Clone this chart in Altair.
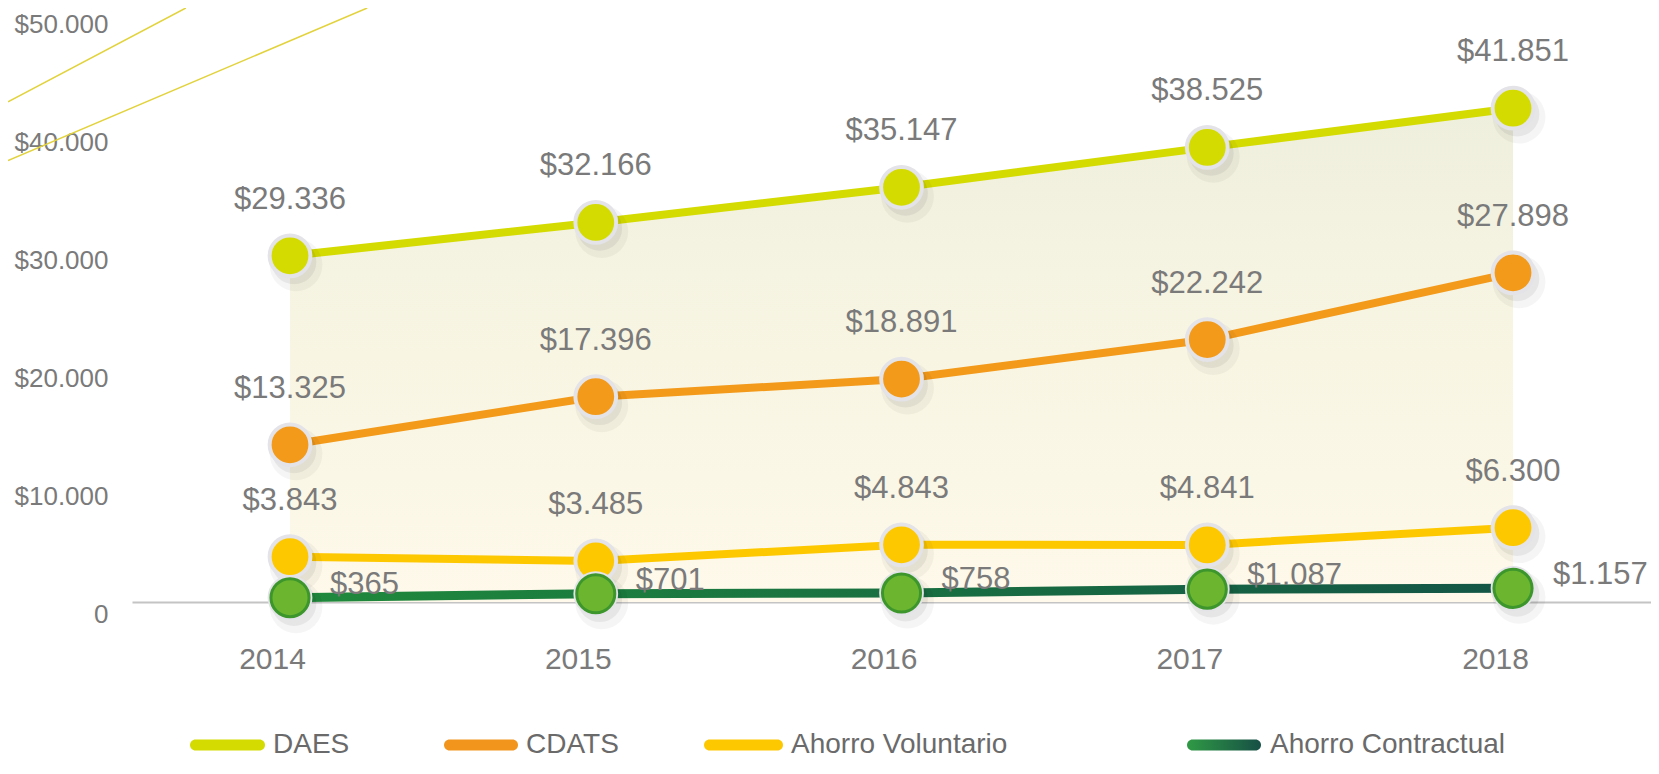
import altair as alt
import pandas as pd

years = [2014, 2015, 2016, 2017, 2018]
series_names = ["DAES", "CDATS", "Ahorro Voluntario", "Ahorro Contractual"]
daes = [29336, 32166, 35147, 38525, 41851]
cdats = [13325, 17396, 18891, 22242, 27898]
ahorro_vol = [3843, 3485, 4843, 4841, 6300]
ahorro_con = [365, 701, 758, 1087, 1157]
y_ticks = [0, 10000, 20000, 30000, 40000, 50000]

fill_colors = ["#d4db00", "#f39a1b", "#fec800", "#6cb52f"]
line_colors = ["#d4db00", "#f39a1b", "#fec800", "#1b6d40"]

REG = "Liberation Sans, Arial, sans-serif"
GRAY = "#7a7a7a"


def fmt(v):
    return "$" + f"{v:,}".replace(",", ".")


rows = []
for s, vals in zip(series_names, [daes, cdats, ahorro_vol, ahorro_con]):
    for yr, v in zip(years, vals):
        rows.append({"series": s, "year": yr, "value": v, "label": fmt(v)})
df = pd.DataFrame(rows)
df_daes = df[df.series == "DAES"]
df_top = df[df.series != "Ahorro Contractual"]
df_ac = df[df.series == "Ahorro Contractual"]

W, H = 1519, 594
xs = alt.Scale(domain=[2013.4832, 2018.4513], nice=False, zero=False)
ys = alt.Scale(domain=[0, 50339], nice=False, zero=True)

x_axis = alt.Axis(values=years, format="d", title=None, grid=False, ticks=False,
                  domain=True, domainColor="#c4c4c4", domainWidth=2,
                  labelFont=REG, labelFontSize=30, labelColor=GRAY,
                  labelPadding=42, labelOffset=-18)
y_axis = alt.Axis(values=y_ticks, title=None, grid=False, ticks=False, domain=False,
                  labelExpr="datum.value == 0 ? '0' : '$' + replace(format(datum.value, ',d'), ',', '.')",
                  labelFont=REG, labelFontSize=26, labelColor=GRAY,
                  labelPadding=24, labelOffset=12)

X = alt.X("year:Q", scale=xs, axis=x_axis)
Y = alt.Y("value:Q", scale=ys, axis=y_axis)
fill_enc = alt.Fill("series:N", scale=alt.Scale(domain=series_names, range=fill_colors), legend=None)
stroke_enc = alt.Stroke("series:N", scale=alt.Scale(domain=series_names, range=line_colors), legend=None)

area = alt.Chart(df_daes).mark_area(
    color=alt.Gradient(gradient="linear",
                       stops=[alt.GradientStop(color="#efefdd", offset=0),
                              alt.GradientStop(color="#f8f5e3", offset=0.5),
                              alt.GradientStop(color="#fef9ea", offset=1)],
                       x1=0, x2=0, y1=0, y2=1)
).encode(x=X, y=Y)

one = pd.DataFrame({"k": [0]})
deco1 = alt.Chart(one).mark_rule(color="#e2d23c", strokeWidth=1.5).encode(
    x=alt.value(-124), y=alt.value(93.8), x2=alt.value(53.8), y2=alt.value(0))
deco2 = alt.Chart(one).mark_rule(color="#e2d23c", strokeWidth=1.5).encode(
    x=alt.value(-124), y=alt.value(152.6), x2=alt.value(235.2), y2=alt.value(0))

lines3 = alt.Chart(df_top).mark_line(strokeWidth=8).encode(
    x=X, y=Y, stroke=stroke_enc, detail="series:N")
line_ac = alt.Chart(df_ac).mark_line(
    strokeWidth=9,
    stroke=alt.Gradient(gradient="linear",
                        stops=[alt.GradientStop(color="#1f8a3c", offset=0),
                               alt.GradientStop(color="#135546", offset=1)],
                        x1=0, x2=1, y1=0, y2=0)
).encode(x=X, y=Y)

shadow1 = alt.Chart(df).mark_circle(color="#000000", opacity=0.04, size=2800, xOffset=6, yOffset=9).encode(x=X, y=Y)
shadow2 = alt.Chart(df).mark_circle(color="#000000", opacity=0.06, size=2000, xOffset=4, yOffset=6).encode(x=X, y=Y)

circles = alt.Chart(df).mark_point(shape="circle", filled=True, size=1662, opacity=1,
                                   stroke="#e3e3e8", strokeWidth=4).encode(
    x=X, y=Y, fill=fill_enc)
ring = alt.Chart(df_ac).mark_point(shape="circle", filled=False, size=1452, stroke="#3c962c",
                                   strokeWidth=3, opacity=1).encode(x=X, y=Y)

labels_top = alt.Chart(df_top).mark_text(font=REG, fontSize=31, color=GRAY, dy=-56, align="center",
                                         baseline="middle").encode(x=X, y=Y, text="label:N")
labels_ac = alt.Chart(df_ac).mark_text(font=REG, fontSize=31, color=GRAY, dx=40, dy=-13, align="left",
                                       baseline="middle").encode(x=X, y=Y, text="label:N")

# legend (manual)
LY = 737
legend_layers = []
leg_pos = [(58, 133, 141), (312, 386, 394), (572, 651, 659), (1055, 1129, 1138)]
leg_fill = ["#d3db00", "#f2951c", "#fdc800",
            alt.Gradient(gradient="linear",
                         stops=[alt.GradientStop(color="#2f9a45", offset=0),
                                alt.GradientStop(color="#174f45", offset=1)],
                         x1=0, x2=1, y1=0, y2=0)]
for name, (x0, x1, tx), fc in zip(series_names, leg_pos, leg_fill):
    legend_layers.append(alt.Chart(one).mark_rect(cornerRadius=5.5, fill=fc).encode(
        x=alt.value(x0), x2=alt.value(x1), y=alt.value(LY - 5.5), y2=alt.value(LY + 5.5)))
    legend_layers.append(alt.Chart(one).mark_text(font=REG, fontSize=28, color="#6a6a6a", align="left",
                                                  baseline="middle").encode(
        x=alt.value(tx), y=alt.value(LY), text=alt.value(name)))

chart = alt.layer(area, deco1, deco2, lines3, line_ac, shadow1, shadow2, circles, ring,
                  labels_top, labels_ac, *legend_layers).properties(
    width=W, height=H,
    autosize=alt.AutoSizeParams(type="none"),
    padding={"left": 124, "top": 0, "right": 0, "bottom": 160},
    background="white",
).configure_view(stroke=None)

chart.save("out.html", embed_options={"renderer": "svg", "actions": False})
